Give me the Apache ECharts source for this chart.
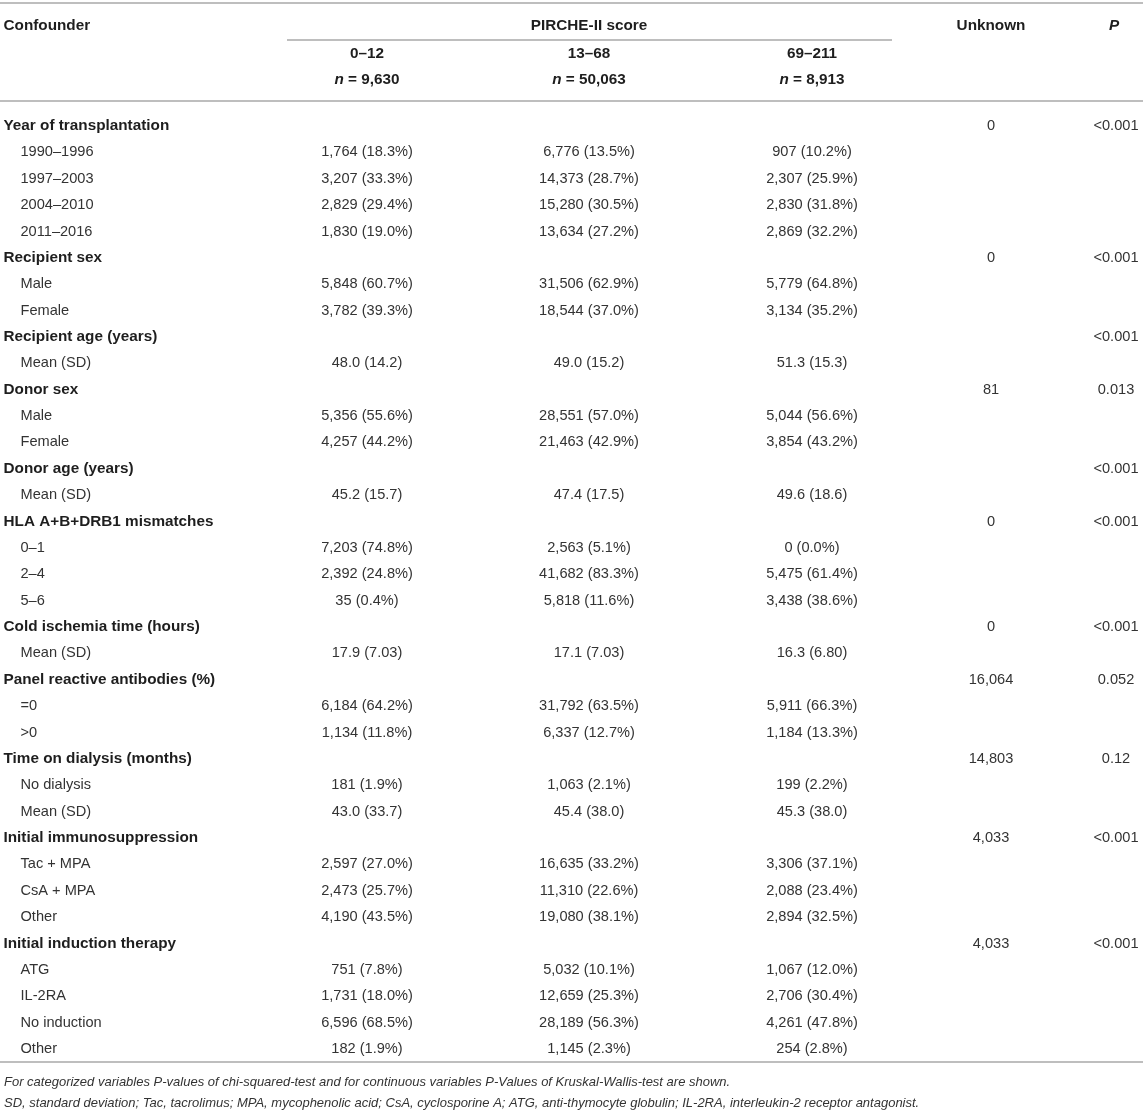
<!DOCTYPE html>
<html>
<head>
<meta charset="utf-8">
<title>Confounders by PIRCHE-II score</title>
<script src="https://cdn.jsdelivr.net/npm/echarts@6/dist/echarts.min.js"></script>
<style>
    html, body { margin: 0; padding: 0; background: #fff; }
    #main { width: 1143px; height: 1117px; }
</style>
</head>
<body>
<div id="main"></div>
<script>
// table content
const confounders = [
    'Year of transplantation', 'Recipient sex', 'Recipient age (years)', 'Donor sex',
    'Donor age (years)', 'HLA A+B+DRB1 mismatches', 'Cold ischemia time (hours)',
    'Panel reactive antibodies (%)', 'Time on dialysis (months)',
    'Initial immunosuppression', 'Initial induction therapy'
];
const levels = [
    ['1990–1996', '1997–2003', '2004–2010', '2011–2016'],
    ['Male', 'Female'],
    ['Mean (SD)'],
    ['Male', 'Female'],
    ['Mean (SD)'],
    ['0–1', '2–4', '5–6'],
    ['Mean (SD)'],
    ['=0', '>0'],
    ['No dialysis', 'Mean (SD)'],
    ['Tac + MPA', 'CsA + MPA', 'Other'],
    ['ATG', 'IL-2RA', 'No induction', 'Other']
];
const score0to12 = [
    ['1,764 (18.3%)', '3,207 (33.3%)', '2,829 (29.4%)', '1,830 (19.0%)'],
    ['5,848 (60.7%)', '3,782 (39.3%)'],
    ['48.0 (14.2)'],
    ['5,356 (55.6%)', '4,257 (44.2%)'],
    ['45.2 (15.7)'],
    ['7,203 (74.8%)', '2,392 (24.8%)', '35 (0.4%)'],
    ['17.9 (7.03)'],
    ['6,184 (64.2%)', '1,134 (11.8%)'],
    ['181 (1.9%)', '43.0 (33.7)'],
    ['2,597 (27.0%)', '2,473 (25.7%)', '4,190 (43.5%)'],
    ['751 (7.8%)', '1,731 (18.0%)', '6,596 (68.5%)', '182 (1.9%)']
];
const score13to68 = [
    ['6,776 (13.5%)', '14,373 (28.7%)', '15,280 (30.5%)', '13,634 (27.2%)'],
    ['31,506 (62.9%)', '18,544 (37.0%)'],
    ['49.0 (15.2)'],
    ['28,551 (57.0%)', '21,463 (42.9%)'],
    ['47.4 (17.5)'],
    ['2,563 (5.1%)', '41,682 (83.3%)', '5,818 (11.6%)'],
    ['17.1 (7.03)'],
    ['31,792 (63.5%)', '6,337 (12.7%)'],
    ['1,063 (2.1%)', '45.4 (38.0)'],
    ['16,635 (33.2%)', '11,310 (22.6%)', '19,080 (38.1%)'],
    ['5,032 (10.1%)', '12,659 (25.3%)', '28,189 (56.3%)', '1,145 (2.3%)']
];
const score69to211 = [
    ['907 (10.2%)', '2,307 (25.9%)', '2,830 (31.8%)', '2,869 (32.2%)'],
    ['5,779 (64.8%)', '3,134 (35.2%)'],
    ['51.3 (15.3)'],
    ['5,044 (56.6%)', '3,854 (43.2%)'],
    ['49.6 (18.6)'],
    ['0 (0.0%)', '5,475 (61.4%)', '3,438 (38.6%)'],
    ['16.3 (6.80)'],
    ['5,911 (66.3%)', '1,184 (13.3%)'],
    ['199 (2.2%)', '45.3 (38.0)'],
    ['3,306 (37.1%)', '2,088 (23.4%)', '2,894 (32.5%)'],
    ['1,067 (12.0%)', '2,706 (30.4%)', '4,261 (47.8%)', '254 (2.8%)']
];
const unknownCounts = ['0', '0', '', '81', '', '0', '0', '16,064', '14,803', '4,033', '4,033'];
const pValues = ['<0.001', '<0.001', '<0.001', '0.013', '<0.001', '<0.001', '<0.001', '0.052', '0.12', '<0.001', '<0.001'];

const scoreGroups = ['0–12', '13–68', '69–211'];
const groupSizes = ['9,630', '50,063', '8,913'];
const footnotes = [
    'For categorized variables P-values of chi-squared-test and for continuous variables P-Values of Kruskal-Wallis-test are shown.',
    'SD, standard deviation; Tac, tacrolimus; MPA, mycophenolic acid; CsA, cyclosporine A; ATG, anti-thymocyte globulin; IL-2RA, interleukin-2 receptor antagonist.'
];

const FONT = '"Liberation Sans", Arial, Helvetica, sans-serif';
const BODY_FONT = '14.6px ' + FONT;
const BOLD_FONT = 'bold 15.3px ' + FONT;
const TEXT_COLOR = '#333';
const HEAD_COLOR = '#1e1e1e';
const RULE_COLOR = '#a9a9a9';
// column centers along the x axis (0..1143 spans the page)
const colCenters = [367, 589, 812, 991, 1116];

// flatten groups into table rows
function buildRows() {
    const rows = [];
    confounders.forEach((name, g) => {
        rows.push({ label: name, head: true, cells: ['', '', '', unknownCounts[g], pValues[g]] });
        levels[g].forEach((lvl, k) => {
            rows.push({
                label: lvl,
                head: false,
                cells: [score0to12[g][k], score13to68[g][k], score69to211[g][k], '', '']
            });
        });
    });
    return rows;
}

function renderRow(rows) {
    return function (params, api) {
        const row = rows[api.value(1)];
        const y = api.coord([0, api.value(1)])[1] + 1;
        const children = [];
        const labelX = api.coord([row.head ? 3.5 : 20.5, 0])[0];
        children.push({
            type: 'text',
            style: {
                x: labelX, y: y, text: row.label,
                font: row.head ? BOLD_FONT : BODY_FONT,
                fill: row.head ? HEAD_COLOR : TEXT_COLOR,
                textAlign: 'left', textVerticalAlign: 'middle'
            }
        });
        row.cells.forEach((txt, c) => {
            if (!txt) return;
            children.push({
                type: 'text',
                style: {
                    x: api.coord([colCenters[c], 0])[0], y: y, text: txt,
                    font: BODY_FONT, fill: TEXT_COLOR,
                    textAlign: 'center', textVerticalAlign: 'middle'
                }
            });
        });
        return { type: 'group', children: children };
    };
}

function headerGraphics() {
    const els = [];
    const rule = (x1, y, x2) => ({
        type: 'line', shape: { x1: x1, y1: y, x2: x2, y2: y },
        style: { stroke: RULE_COLOR, lineWidth: 1.5 }
    });
    const txt = (x, y, text, align, extra) => ({
        type: 'text', x: x, y: y,
        style: Object.assign({
            text: text, font: BOLD_FONT, fill: HEAD_COLOR,
            textAlign: align, textVerticalAlign: 'middle'
        }, extra || {})
    });

    els.push(rule(0, 3, 1143));
    els.push(rule(287, 40, 892));
    els.push(rule(0, 101, 1143));
    els.push(rule(0, 1062, 1143));

    els.push(txt(3.5, 26, 'Confounder', 'left'));
    els.push(txt(589, 26, 'PIRCHE-II score', 'center'));
    els.push(txt(colCenters[3], 26, 'Unknown', 'center'));
    els.push(txt(1114, 26, 'P', 'center', { font: 'italic ' + BOLD_FONT }));

    scoreGroups.forEach((s, i) => {
        els.push(txt(colCenters[i], 54, s, 'center'));
        els.push(txt(colCenters[i], 80, '{i|n} = ' + groupSizes[i], 'center', {
            rich: { i: { font: 'italic ' + BOLD_FONT, fill: HEAD_COLOR } }
        }));
    });

    footnotes.forEach((f, i) => {
        els.push(txt(4, 1082 + i * 21, f, 'left', { font: 'italic 13px ' + FONT, fill: TEXT_COLOR }));
    });
    return els;
}

document.addEventListener('DOMContentLoaded', function () {
    const rows = buildRows();
    const myChart = echarts.init(document.getElementById('main'), null, { renderer: 'canvas' });

    const option = {
        backgroundColor: '#fff',
        animation: false,
        grid: { left: 0, right: 0, top: 111.8, bottom: 55.8 },
        xAxis: { type: 'value', min: 0, max: 1143, show: false },
        yAxis: {
            type: 'category', inverse: true, show: false,
            data: rows.map(r => r.label)
        },
        graphic: headerGraphics(),
        series: [{
            type: 'custom',
            clip: false,
            renderItem: renderRow(rows),
            data: rows.map((r, i) => [0, i])
        }]
    };

    myChart.setOption(option);
});
</script>
</body>
</html>
